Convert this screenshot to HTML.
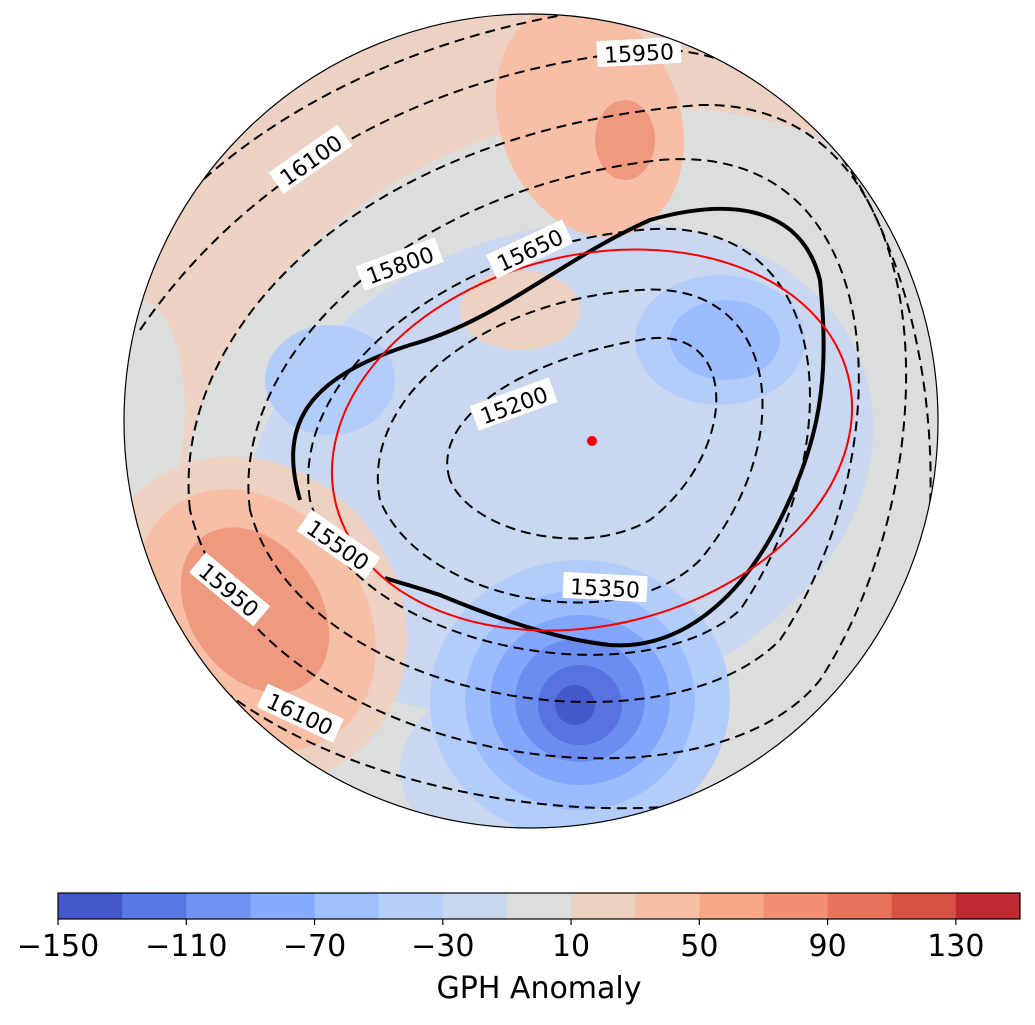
<!DOCTYPE html>
<html><head><meta charset="utf-8">
<style>
html,body{margin:0;padding:0;background:#fff;}
svg text{font-family:"DejaVu Sans","Liberation Sans",sans-serif;}
</style></head>
<body>
<svg id="fig" width="1035" height="1020" viewBox="0 0 1035 1020" xmlns="http://www.w3.org/2000/svg">
<defs><clipPath id="globe"><circle cx="531" cy="421" r="407"/></clipPath></defs>
<g id="map" clip-path="url(#globe)">
  <rect x="100" y="0" width="860" height="860" fill="#edd1c2"/>
  <ellipse cx="600" cy="470" rx="430" ry="350" transform="rotate(-22 600 470)" fill="#dcdddd"/>
  <ellipse cx="140" cy="410" rx="45" ry="110" fill="#dcdddd"/>
  <ellipse cx="560" cy="470" rx="320" ry="240" transform="rotate(-18 560 470)" fill="#c9d7f0"/>
  <ellipse cx="520" cy="770" rx="120" ry="90" fill="#c9d7f0"/>
  <ellipse cx="590" cy="120" rx="90" ry="120" transform="rotate(-20 590 120)" fill="#f6bfa6"/>
  <ellipse cx="625" cy="140" rx="30" ry="40" fill="#ef9a7e"/>
  <ellipse cx="520" cy="310" rx="60" ry="40" fill="#edd1c2"/>
  <ellipse cx="250" cy="620" rx="150" ry="170" transform="rotate(-35 250 620)" fill="#edd1c2"/>
  <ellipse cx="255" cy="620" rx="110" ry="140" transform="rotate(-35 255 620)" fill="#f6bfa6"/>
  <ellipse cx="255" cy="610" rx="65" ry="90" transform="rotate(-35 255 610)" fill="#ef9a7e"/>
  <ellipse cx="330" cy="380" rx="65" ry="55" fill="#b3cdfb"/>
  <ellipse cx="720" cy="340" rx="85" ry="65" fill="#b3cdfb"/>
  <ellipse cx="725" cy="340" rx="55" ry="40" fill="#9bbcff"/>
  <ellipse cx="580" cy="700" rx="150" ry="140" fill="#b3cdfb"/>
  <ellipse cx="580" cy="700" rx="115" ry="110" fill="#9bbcff"/>
  <ellipse cx="580" cy="700" rx="90" ry="85" fill="#82a6fb"/>
  <ellipse cx="580" cy="700" rx="65" ry="62" fill="#6b8df0"/>
  <ellipse cx="580" cy="705" rx="42" ry="40" fill="#5673e0"/>
  <ellipse cx="575" cy="705" rx="20" ry="20" fill="#445acc"/>
  <g fill="none" stroke="#000" stroke-width="2" stroke-dasharray="10,6">
    <path d="M450 480 C430 420 520 360 640 340 C740 320 740 450 650 520 C580 560 470 530 450 480"/>
    <path d="M380 500 C360 400 480 300 640 290 C780 280 800 440 700 560 C620 640 420 600 380 500"/>
    <path d="M310 500 C290 380 440 250 640 230 C840 210 850 450 740 610 C640 700 350 650 310 500"/>
    <path d="M250 510 C230 360 400 190 660 160 C900 140 900 460 780 640 C660 760 300 700 250 510"/>
    <path d="M190 510 C170 330 360 130 700 105 C950 100 950 480 820 680 C700 830 250 760 190 510"/>
    <path d="M140 330 C250 170 430 70 650 50 C900 40 1000 480 880 720 C780 880 200 820 130 560"/>
    <path d="M100 300 C220 110 450 10 700 0 M90 620 C200 800 500 880 700 860"/>
  </g>
  <path d="M300 500 C280 430 300 380 410 345 C500 320 560 260 650 220 C720 200 800 200 820 280 C830 380 820 440 780 520 C740 600 680 650 610 645 C560 640 500 620 440 595 C410 585 390 580 385 578" fill="none" stroke="#000" stroke-width="4"/>
  <ellipse cx="592" cy="440" rx="264" ry="185" transform="rotate(-14 592 440)" fill="none" stroke="#f00" stroke-width="2"/>
  <circle cx="592" cy="441" r="5" fill="#f00"/>
  <g font-size="22">
    <g transform="translate(639,53) rotate(-3)"><rect x="-42" y="-14" width="84" height="26" fill="#fff"/><text text-anchor="middle" y="8">15950</text></g>
    <g transform="translate(311,160) rotate(-35)"><rect x="-42" y="-14" width="84" height="26" fill="#fff"/><text text-anchor="middle" y="8">16100</text></g>
    <g transform="translate(400,265) rotate(-20)"><rect x="-42" y="-14" width="84" height="26" fill="#fff"/><text text-anchor="middle" y="8">15800</text></g>
    <g transform="translate(530,250) rotate(-25)"><rect x="-42" y="-14" width="84" height="26" fill="#fff"/><text text-anchor="middle" y="8">15650</text></g>
    <g transform="translate(514,405) rotate(-20)"><rect x="-42" y="-14" width="84" height="26" fill="#fff"/><text text-anchor="middle" y="8">15200</text></g>
    <g transform="translate(338,545) rotate(35)"><rect x="-42" y="-14" width="84" height="26" fill="#fff"/><text text-anchor="middle" y="8">15500</text></g>
    <g transform="translate(605,588) rotate(3)"><rect x="-42" y="-14" width="84" height="26" fill="#fff"/><text text-anchor="middle" y="8">15350</text></g>
    <g transform="translate(229,590) rotate(40)"><rect x="-42" y="-14" width="84" height="26" fill="#fff"/><text text-anchor="middle" y="8">15950</text></g>
    <g transform="translate(300,714) rotate(25)"><rect x="-42" y="-14" width="84" height="26" fill="#fff"/><text text-anchor="middle" y="8">16100</text></g>
  </g>
</g>
<circle cx="531" cy="421" r="407" fill="none" stroke="#000" stroke-width="1.2"/>
<g id="cbar"></g>
</svg>
<script>
const binEdges = [-150,-130,-110,-90,-70,-50,-30,-10,10,30,50,70,90,110,130,150];
const binColors = ["#4358cb","#5a78e4","#6f92f3","#87abfc","#a1c0ff","#b8d0f9","#c9d7ef","#dcdddd","#eed0c0","#f6bfa6","#f7a889","#f08f71","#e7745b","#d65244","#bf2932"];
const tickValues = [-150,-110,-70,-30,10,50,90,130];
const NS = "http://www.w3.org/2000/svg";
const cb = document.getElementById('cbar');
const x0 = 58, x1 = 1020, y0 = 893, h = 26;
const vmin = binEdges[0], vmax = binEdges[binEdges.length-1];
function sx(v){ return x0 + (v - vmin) / (vmax - vmin) * (x1 - x0); }
for (let i = 0; i < binColors.length; i++) {
  const r = document.createElementNS(NS, 'rect');
  r.setAttribute('x', sx(binEdges[i]));
  r.setAttribute('y', y0);
  r.setAttribute('width', sx(binEdges[i+1]) - sx(binEdges[i]) + 0.5);
  r.setAttribute('height', h);
  r.setAttribute('fill', binColors[i]);
  
  
  cb.appendChild(r);
}
const frame = document.createElementNS(NS, 'rect');
frame.setAttribute('x', x0); frame.setAttribute('y', y0);
frame.setAttribute('width', x1 - x0); frame.setAttribute('height', h);
frame.setAttribute('fill', 'none'); frame.setAttribute('stroke', '#000'); frame.setAttribute('stroke-width', '1.2');


cb.appendChild(frame);
tickValues.forEach(v => {
  const l = document.createElementNS(NS, 'line');
  l.setAttribute('x1', sx(v)); l.setAttribute('x2', sx(v));
  l.setAttribute('y1', y0 + h); l.setAttribute('y2', y0 + h + 6);
  l.setAttribute('stroke', '#000'); l.setAttribute('stroke-width', '1.2');
  
  
  cb.appendChild(l);
  const t = document.createElementNS(NS, 'text');
  t.setAttribute('x', sx(v)); t.setAttribute('y', 956);
  t.setAttribute('text-anchor', 'middle'); t.setAttribute('font-size', '30');
  t.textContent = (v < 0 ? '\u2212' + Math.abs(v) : String(v));
  
  
  cb.appendChild(t);
});
const title = document.createElementNS(NS, 'text');
title.setAttribute('x', 539); title.setAttribute('y', 998);
title.setAttribute('text-anchor', 'middle'); title.setAttribute('font-size', '30');
title.textContent = 'GPH Anomaly';


cb.appendChild(title);
</script>
</body></html>
